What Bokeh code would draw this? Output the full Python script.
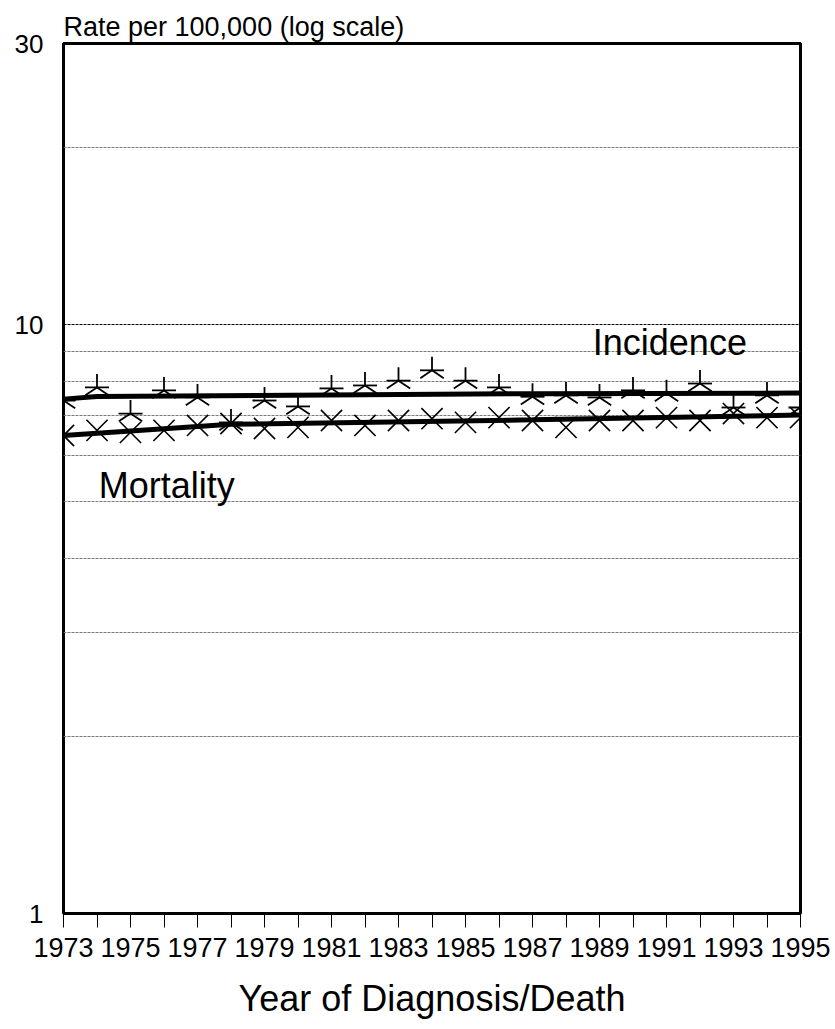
import numpy as np
from bokeh.plotting import figure
from bokeh.models import FixedTicker, Span, Range1d, PrintfTickFormatter
from bokeh.embed import file_html
from bokeh.resources import INLINE
from bokeh.core.properties import value

# ---- data ----
years = list(range(1973, 1996))
incidence = [7.43, 7.82, 7.06, 7.73, 7.52, 6.82, 7.43, 7.26, 7.79, 7.88, 8.03, 8.36,
             8.03, 7.82, 7.54, 7.58, 7.52, 7.73, 7.64, 7.94, 7.23, 7.58, 7.23]
mortality = [6.48, 6.61, 6.56, 6.61, 6.74, 6.79, 6.66, 6.69, 6.87, 6.74, 6.87, 6.92,
             6.82, 6.95, 6.87, 6.69, 6.87, 6.87, 6.95, 6.87, 7.06, 6.95, 6.95]
inc_trend_years = [1973, 1974, 1987, 1995]
inc_trend = [7.47, 7.55, 7.63, 7.65]
mort_trend_years = [1973, 1978, 1987, 1995]
mort_trend = [6.48, 6.77, 6.89, 7.02]
y_tick_values = [1, 10, 30]
grid_values = [2, 3, 4, 5, 6, 7, 8, 9, 20]
ten_line = 10
year_labels = {y: (str(y) if (y - 1973) % 2 == 0 else "") for y in years}
inc_label = ("Incidence", 1988.8, 9.32)
mort_label = ("Mortality", 1974.05, 5.33)

FONT = "Liberation Sans"

p = figure(width=835, height=1029, y_axis_type="log",
           x_range=Range1d(1973, 1995), y_range=Range1d(1, 30),
           output_backend="svg", toolbar_location=None,
           min_border_left=63, min_border_right=35, min_border_top=43,
           min_border_bottom=116)

p.title.text = "Rate per 100,000 (log scale)"
p.title.text_font = FONT
p.title.text_font_size = "27px"
p.title.text_font_style = "normal"
p.title.text_color = "black"
p.title.align = "left"
p.title.standoff = 4

p.outline_line_color = "black"
p.outline_line_width = 3

# y axis
p.yaxis.ticker = FixedTicker(ticks=y_tick_values)
p.yaxis.formatter = PrintfTickFormatter(format="%d")
p.yaxis.major_tick_line_color = None
p.yaxis.minor_tick_line_color = None
p.yaxis.axis_line_color = None
p.yaxis.major_label_standoff = 14
p.yaxis.major_label_text_font = FONT
p.yaxis.major_label_text_font_size = "26px"
p.yaxis.major_label_text_color = "black"

# x axis
p.xaxis.ticker = FixedTicker(ticks=years)
p.xaxis.major_label_overrides = year_labels
p.xaxis.minor_tick_line_color = None
p.xaxis.major_tick_in = 0
p.xaxis.major_tick_out = 14
p.xaxis.major_tick_line_color = "black"
p.xaxis.major_tick_line_width = 1
p.xaxis.axis_line_color = None
p.xaxis.major_label_standoff = 10
p.xaxis.major_label_text_font = FONT
p.xaxis.major_label_text_font_size = "27px"
p.xaxis.major_label_text_color = "black"
p.xaxis.axis_label = "Year of Diagnosis/Death"
p.xaxis.axis_label_text_font = FONT
p.xaxis.axis_label_text_font_size = "36px"
p.xaxis.axis_label_text_font_style = "normal"
p.xaxis.axis_label_text_color = "black"
p.xaxis.axis_label_standoff = 18

# grid
p.xgrid.visible = False
p.ygrid.ticker = FixedTicker(ticks=grid_values)
p.ygrid.grid_line_color = "#7a7a7a"
p.ygrid.grid_line_dash = "3 1"
p.ygrid.grid_line_width = 1
p.add_layout(Span(location=ten_line, dimension="width", line_color="black",
                  line_dash="3 1", line_width=1))

# markers
p.scatter(years, incidence, marker="y", angle=np.pi, size=27,
          line_color="black", line_width=1.8)
p.scatter(years, incidence, marker="dash", size=24,
          line_color="black", line_width=1.8)
p.scatter(years, mortality, marker="x", size=30,
          line_color="black", line_width=1.6)

# trend lines
p.line(inc_trend_years, inc_trend, line_color="black", line_width=5)
p.line(mort_trend_years, mort_trend, line_color="black", line_width=5)

# labels
for txt, lx, ly in (inc_label, mort_label):
    p.text(x=[lx], y=[ly], text=[txt], text_font=value(FONT),
           text_font_size="36px", text_baseline="middle", text_align="left",
           text_color="black")

open("out.html", "w").write(file_html(p, INLINE))
